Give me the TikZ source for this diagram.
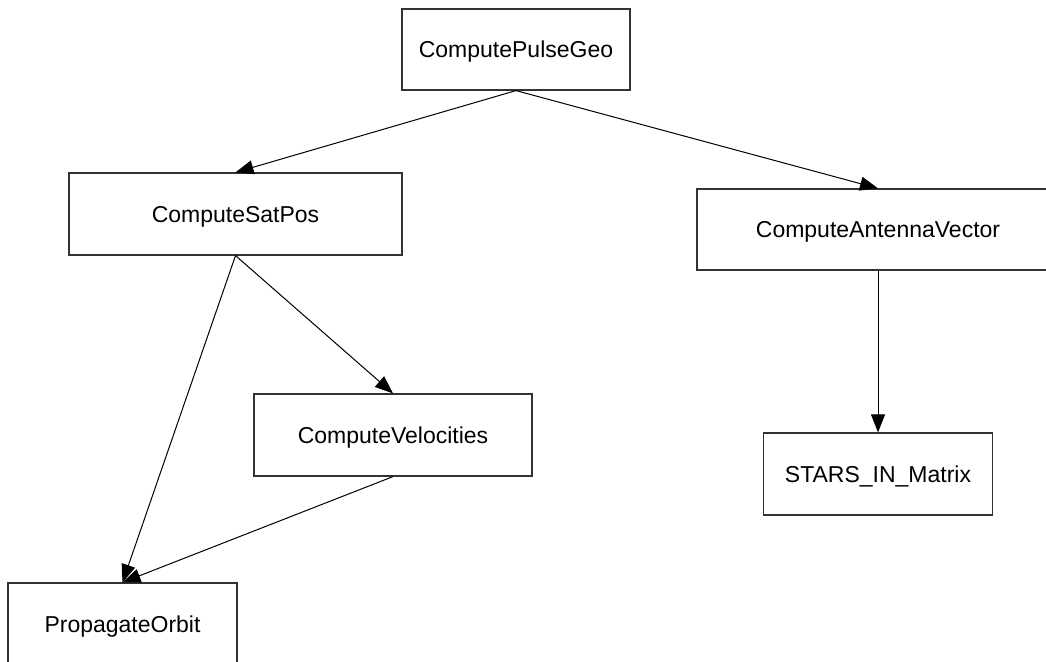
\documentclass[tikz,border=0pt]{standalone}
\usepackage{fontspec}
\setmainfont{Liberation Sans}
\usetikzlibrary{arrows.meta}

\tikzset{
  callbox/.style={draw=black!80, line width=1.2pt, fill=white, rectangle,
    inner sep=0pt, text height=16.5pt, text depth=0pt,
    font=\fontsize{23}{27}\selectfont},
  call/.style={draw=black, line width=1pt,
    -{Triangle[length=18pt, width=14pt]}, shorten >=0pt},
}

\begin{document}
\begin{tikzpicture}[x=1pt, y=-1pt]
  \useasboundingbox (0,0) rectangle (1046,661);
  \clip (0,0) rectangle (1046,661);
  \fill[white] (0,0) rectangle (1046,661);

  % call tree boxes
  \node[callbox, minimum width=228pt, minimum height=81pt] (pg) at (516,49.5) {ComputePulseGeo};
  \node[callbox, minimum width=333pt, minimum height=82pt] (sp) at (235.5,214) {ComputeSatPos};
  \node[callbox, minimum width=362pt, minimum height=81pt] (av) at (878,229.5) {ComputeAntennaVector};
  \node[callbox, minimum width=229pt, minimum height=82pt] (sm) at (878,474) {STARS\_IN\_Matrix};
  \node[callbox, minimum width=278pt, minimum height=82pt] (cv) at (393,435) {ComputeVelocities};
  \node[callbox, minimum width=229pt, minimum height=82pt] (po) at (122.5,624) {PropagateOrbit};

  % calls
  \draw[call] (pg.south) -- (sp.north);
  \draw[call] (pg.south) -- (av.north);
  \draw[call] (sp.south) -- (cv.north);
  \draw[call] (sp.south) -- (po.north);
  \draw[call] (cv.south) -- (po.north);
  \draw[call] (av.south) -- (sm.north);
\end{tikzpicture}
\end{document}
